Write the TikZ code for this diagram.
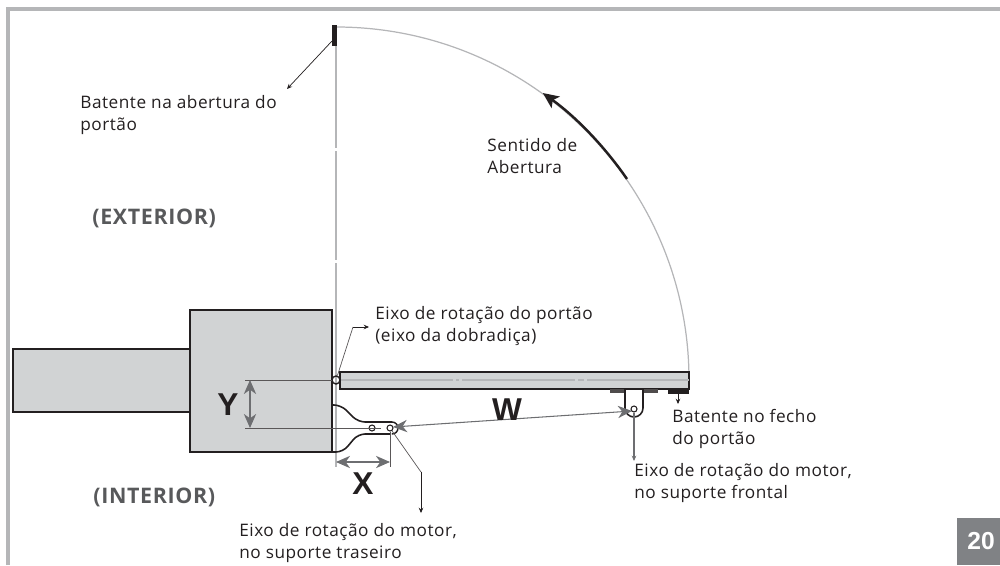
\documentclass[tikz,border=0pt]{standalone}
\usepackage{fontspec}
\setmainfont[LetterSpace=3]{Open Sans}
\newfontfamily\dimfont{Liberation Sans}
\usetikzlibrary{arrows.meta}
\definecolor{framegray}{HTML}{B5B6B8}
\definecolor{fillgray}{HTML}{D1D3D4}
\definecolor{inkblack}{HTML}{231F20}
\definecolor{dimgray}{HTML}{6D6E71}
\definecolor{sidegray}{HTML}{58595B}
\definecolor{pagegray}{HTML}{808285}
\tikzset{
  wall/.style={draw=inkblack,fill=fillgray,line width=1.1pt},
  pivot/.style={circle,draw=inkblack,fill=white,line width=0.6pt,inner sep=0pt,minimum size=1.2mm},
  caption/.style={align=left,anchor=west,inner sep=0pt,text=inkblack,font=\fontsize{9.8}{12.6}\selectfont},
  side/.style={anchor=west,inner sep=0pt,text=sidegray,font=\fontsize{12.2}{14}\selectfont\bfseries},
  dimtext/.style={inner sep=0pt,text=inkblack,font=\dimfont\fontsize{18}{18}\selectfont\bfseries},
  leader/.style={draw=inkblack,line width=0.4pt,-{Stealth[length=3pt,width=2.6pt]}},
  dimline/.style={draw=dimgray,line width=0.6pt,{Stealth[length=8pt,width=7pt,inset=2.5pt]}-{Stealth[length=8pt,width=7pt,inset=2.5pt]}},
  thinline/.style={draw=inkblack!75,line width=0.4pt}
}
\begin{document}
\begin{tikzpicture}[x=0.02cm,y=-0.02cm]
  \useasboundingbox (0,0) rectangle (1000,565);
  \draw[framegray,line width=1.9pt] (8,565) -- (8,9) -- (1000,9);

  \draw[wall] (13,349) rectangle (190,412);
  \draw[wall] (190,310) rectangle (332,452);

  \draw[framegray,line width=0.7pt] (336,27) arc (-90:0:353);
  \draw[framegray,line width=1pt] (336,46) -- (336,148) (336,151) -- (336,260) (336,263) -- (336,467);
  \draw[inkblack,line width=1.4pt,-{Stealth[length=9pt,width=8pt,inset=2pt]}]
    (627,179) arc (-34.6:-54.2:353.5);

  \draw[wall] (340,372) rectangle (689,389);
  \draw[framegray,line width=1pt] (341,380) -- (453,380) (456,380) -- (459,380) (462,380) -- (575,380)
    (578,380) -- (584,380) (587,380) -- (689,380);
  \fill[inkblack] (332,25) rectangle (337,46);
  \fill[inkblack] (668,389) rectangle (689,394);
  \fill[inkblack!80] (610,389) rectangle (625,393);
  \fill[inkblack!80] (643,389) rectangle (658,393);

  \begin{scope}[draw=inkblack,line width=0.9pt,rounded corners=4pt]
  \draw (332,405) -- (341,405) -- (358,422) -- (392,422);
  \draw (332,452) -- (343,452) -- (358,434) -- (391,434);
  \end{scope}
  \draw[inkblack,line width=0.8pt] (392,422) arc (-90:90:6);
  \draw[inkblack,line width=0.9pt] (625,389) -- (625,408) arc (180:0:9) -- (643,389);

  \node[pivot,fill=none,line width=0.8pt,minimum size=1.6mm] (hinge) at (336,380) {};
  \node[pivot] (rearfix) at (372,428) {};
  \node[pivot] (rearaxis) at (390,428) {};
  \node[pivot] (frontaxis) at (634,409) {};

  \coordinate (yup) at (245,380);
  \coordinate (ydown) at (245,428);
  \coordinate (yleft) at (381,428);
  \coordinate (xend) at (390,467);
  \coordinate (hingebend) at (353,327);
  \coordinate (hingetip) at (369,327);
  \coordinate (rearbend) at (421,472);
  \coordinate (reartip) at (421,513);
  \coordinate (fronttip) at (634,461);
  \coordinate (openstop) at (332,41);
  \coordinate (opentip) at (287,89);
  \coordinate (closestop) at (678,394);
  \coordinate (closetip) at (678,404);

  \draw[thinline] (yup) -- (332,380);
  \draw[thinline] (ydown) -- (yleft);
  \draw[thinline] (rearaxis) -- (xend);
  \draw[dimline] (250,380) -- (250,428);
  \draw[dimline] (336,462) -- (390,462);
  \draw[dimline] (393,427) -- (632,411);

  \draw[thinline] (hinge) -- (hingebend);
  \draw[leader] (hingebend) -- (hingetip);
  \draw[thinline] (rearaxis) -- (rearbend);
  \draw[leader] (rearbend) -- (reartip);
  \draw[leader,draw=dimgray,line width=0.7pt] (frontaxis) -- (fronttip);
  \draw[leader] (openstop) -- (opentip);
  \draw[leader] (closestop) -- (closetip);

  \node[caption] (openlabel) at (80,115) {Batente na abertura do\\portão};
  \node[caption] (senselabel) at (487,156) {Sentido de\\Abertura};
  \node[caption] (hingelabel) at (375,326) {Eixo de rotação do portão\\(eixo da dobradiça)};
  \node[caption] (closelabel) at (672,429) {Batente no fecho\\do portão};
  \node[caption] (frontlabel) at (634,483) {Eixo de rotação do motor,\\no suporte frontal};
  \node[caption] (rearlabel) at (239,543) {Eixo de rotação do motor,\\no suporte traseiro};
  \node[side] (outside) at (92,218) {(EXTERIOR)};
  \node[side] (inside) at (93,497) {(INTERIOR)};
  \node[dimtext] (ylabel) at (228,405) {Y};
  \node[dimtext] (xlabel) at (363,484) {X};
  \node[dimtext] (wlabel) at (507,410) {W};

  \fill[pagegray] (957,518) rectangle (1000,565);
  \node[inner sep=0pt,text=white,font=\dimfont\fontsize{14}{14}\selectfont\bfseries] (pagenum) at (981,541) {20};
\end{tikzpicture}
\end{document}
